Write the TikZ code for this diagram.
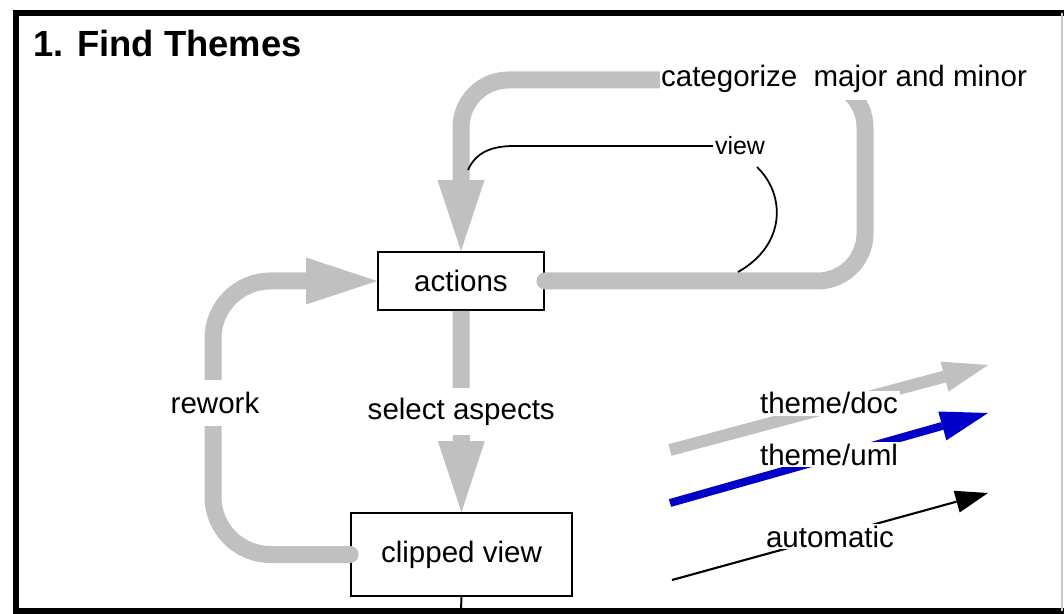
\documentclass[tikz,border=0pt]{standalone}
\usepackage{fontspec}
\setmainfont{Liberation Sans}
\usepackage{tikz}
\usetikzlibrary{arrows.meta, positioning}
\definecolor{flowgray}{RGB}{192,192,192}
\definecolor{umlblue}{RGB}{0,0,200}
\definecolor{edgegray}{RGB}{200,200,200}
\tikzset{
  box/.style={rectangle, draw=black, fill=white, line width=1.1pt,
    font=\fontsize{16.8}{20}\selectfont, inner sep=0pt},
  flow/.style={draw=flowgray, line width=0.34cm, rounded corners=1cm,
    line cap=round, -{Triangle[length=1.42cm, width=0.94cm, line width=0pt]}},
  lbl/.style={font=\fontsize{16.8}{20}\selectfont, fill=white, inner sep=1pt},
  gaplbl/.style={lbl, minimum height=0.94cm},
  note/.style={font=\fontsize{14.2}{17}\selectfont, inner sep=1pt},
  noteline/.style={draw=black, line width=1pt},
  docarrow/.style={draw=flowgray, line width=0.24cm,
    -{Triangle[length=0.9cm, width=0.62cm, line width=0pt]}},
  umlarrow/.style={draw=umlblue, line width=0.16cm,
    -{Triangle[length=0.95cm, width=0.6cm, line width=0pt]}},
  autoarrow/.style={draw=black, line width=1.2pt,
    -{Triangle[length=0.65cm, width=0.45cm, line width=0pt]}},
  legendlbl/.style={lbl, inner sep=1pt},
  frameline/.style={line width=0.12cm}
}
\begin{document}
\begin{tikzpicture}[x=0.02cm, y=-0.02cm]
  \useasboundingbox (0,0) rectangle (1064,614);
  \draw[frameline] (16,614) -- (16,13) -- (1064,13);
  \draw[frameline] (16,611) -- (1064,611);
  \draw[edgegray, line width=0.6pt] (1062,13) -- (1062,611);

  \node[anchor=base west, inner sep=0pt, font=\bfseries\fontsize{20.7}{24}\selectfont]
    (title) at (33,57) {1. Find Themes};

  \node[box, minimum width=3.32cm, minimum height=1.16cm] (actions) at (461,281) {actions};
  \node[box, minimum width=4.42cm, minimum height=1.66cm] (clipped) at (461.5,554.5) {clipped view};
  \coordinate (btm) at (461,609);
  \draw[line width=1.1pt] (clipped.south) -- (btm);

  \draw[flow, rounded corners=0.95cm] (actions.east) -- (865,281) -- (865,80) -- (461,80) -- (actions.north);
  \draw[flow, line cap=butt] (actions.south) -- node[gaplbl] (select) {select aspects} (clipped.north);
  \draw[flow, rounded corners=1.15cm] (clipped.west) -- (213,554.5) -- (213,281) -- (actions.west);

  \node[lbl, inner xsep=0.5pt, minimum height=0.86cm] (categorize) at (844,79) {categorize\ \ major and minor};
  \node[gaplbl] (rework) at (215,403) {rework};

  \node[note] (view) at (740,146) {view};
  \coordinate (viewL) at (468,170);
  \coordinate (viewR1) at (757,167);
  \coordinate (viewR2) at (738,272);
  \draw[noteline] (view.west) -- (514,146) .. controls (492,146) and (476,152) .. (viewL);
  \draw[noteline] (viewR1) .. controls (786,195) and (786,245) .. (viewR2);

  \coordinate (docS) at (670,450);
  \coordinate (docE) at (988,365);
  \coordinate (umlS) at (670,503);
  \coordinate (umlE) at (988,413);
  \coordinate (autoS) at (672,580);
  \coordinate (autoE) at (988,493);
  \draw[docarrow] (docS) -- node[legendlbl, yshift=2.5pt] (doc) {theme/doc} (docE);
  \draw[umlarrow] (umlS) -- node[legendlbl, yshift=2pt] (uml) {theme/uml} (umlE);
  \draw[autoarrow] (autoS) -- node[legendlbl] (auto) {automatic} (autoE);
\end{tikzpicture}
\end{document}
